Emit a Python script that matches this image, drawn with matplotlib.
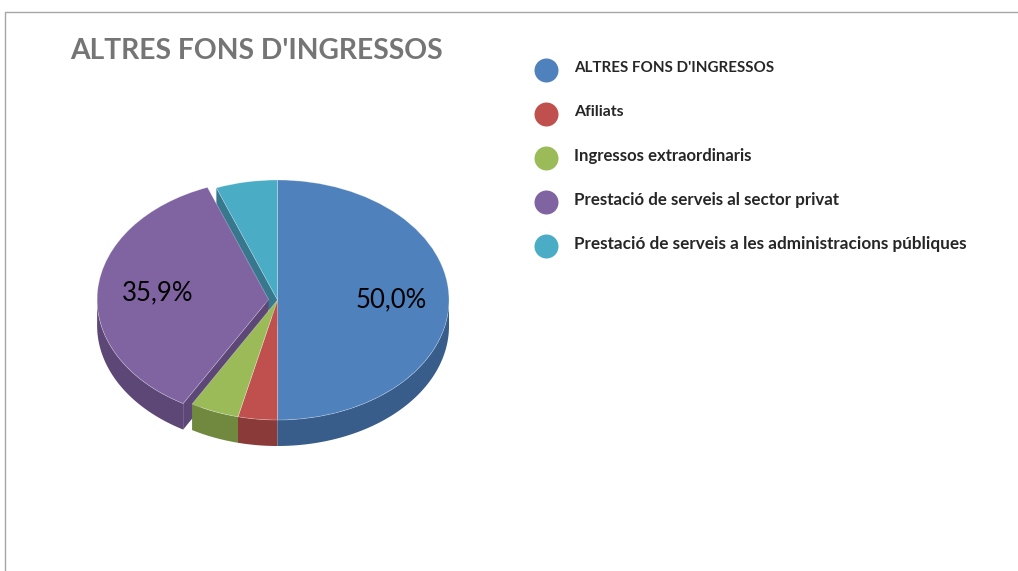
#!/usr/bin/env python3
# -*- coding: utf-8 -*-

import matplotlib
matplotlib.use("Agg")
import matplotlib.pyplot as plt
import numpy as np

title = "ALTRES FONS D'INGRESSOS"
categories = ["ALTRES FONS D'INGRESSOS", "Afiliats", "Ingressos extraordinaris",
              "Prestació de serveis al sector privat",
              "Prestació de serveis a les administracions públiques"]
values = [50.0, 3.7, 4.6, 35.9, 5.8]
explode = [0, 0, 0, 0.052, 0]
top_colors = ["#4F81BD", "#C0504D", "#9BBB59", "#8064A2", "#4BACC6"]
side_colors = ["#385D8A", "#8A3A38", "#71893F", "#5C4776", "#37788E"]
# Lato runs narrower than the original font on lowercase, so sizes differ a bit
legend_sizes = [10.9, 11.4, 12.1, 12.2, 12.3]

W, H = 1018, 571
CX, CY = 277.5, 300   # pie centre in pixels
RX, RY = 171.5, 120   # top ellipse radii in pixels
DEPTH = 26 / RY       # height of the pie in data units

plt.rcParams['font.family'] = ['Lato', 'DejaVu Sans']

fig = plt.figure(figsize=(W / 100, H / 100), dpi=100, facecolor="white")

# pie axes fills the figure, scaled so a unit circle comes out as the ellipse
ax = fig.add_axes([0, 0, 1, 1])
wedges, _ = ax.pie(values, explode=explode, colors=top_colors, startangle=90,
                   counterclock=False, radius=1,
                   wedgeprops=dict(linewidth=0.5, zorder=4))
for w in wedges:
    w.set_edgecolor(matplotlib.colors.to_rgba("white", 0.35))
ax.set_aspect('auto')
ax.set_xlim(-CX / RX, (W - CX) / RX)
ax.set_ylim((CY - H) / RY, CY / RY)
ax.axis('off')


def arc_xy(w, angle):
    return w.center[0] + np.cos(np.radians(angle)), w.center[1] + np.sin(np.radians(angle))


def draw_outer_wall(w, color, z):
    ang = np.linspace(w.theta1, w.theta2, 200)
    ang = ang[np.sin(np.radians(ang)) < 0]
    if len(ang) == 0:
        return
    x, y = arc_xy(w, ang)
    ax.fill(np.r_[x, x[::-1]], np.r_[y, y[::-1] - DEPTH], color=color, lw=0, zorder=z)


def draw_cut_face(w, angle, color, z):
    x, y = arc_xy(w, angle)
    cx, cy = w.center
    ax.fill([cx, x, x, cx], [cy, y, y - DEPTH, cy - DEPTH], color=color, lw=0, zorder=z)


def pct(v):
    return ("%.1f" % v).replace(".", ",") + "%"


# back to front: cut faces opened by the exploded slice, then outer walls
draw_cut_face(wedges[4], wedges[4].theta2, side_colors[4], 1)
draw_cut_face(wedges[3], wedges[3].theta2, side_colors[3], 2)
draw_outer_wall(wedges[3], side_colors[3], 2)
for i in [2, 1, 0]:
    draw_outer_wall(wedges[i], side_colors[i], 3)

# overlay axes in pixel coords for the texts and the legend
ov = fig.add_axes([0, 0, 1, 1], facecolor="none")
ov.set_xlim(0, W)
ov.set_ylim(H, 0)
ov.axis('off')

# frame lines, only top and left are visible
ov.plot([5.5, 5.5, W], [H, 12, 12], color="#A6A6A6", lw=1.0, clip_on=False)

ov.text(70, 51, title, fontsize=20.3, fontweight='bold', color="#757575", va='center', ha='left')

ov.text(391, 300, pct(values[0]), fontsize=18.5, color="black", ha='center', va='center', zorder=6)
ov.text(158, 293, pct(values[3]), fontsize=18.5, color="black", ha='center', va='center', zorder=6)

leg_y = 70
for name, c, fs in zip(categories, top_colors, legend_sizes):
    ov.scatter([546.5], [leg_y], s=(24 * 0.72) ** 2, color=c, linewidths=0)
    ov.text(574.5, leg_y - 2, name, fontsize=fs, fontweight='bold', color="#262626",
            ha='left', va='center')
    leg_y += 44

fig.savefig("out.png", dpi=100)
